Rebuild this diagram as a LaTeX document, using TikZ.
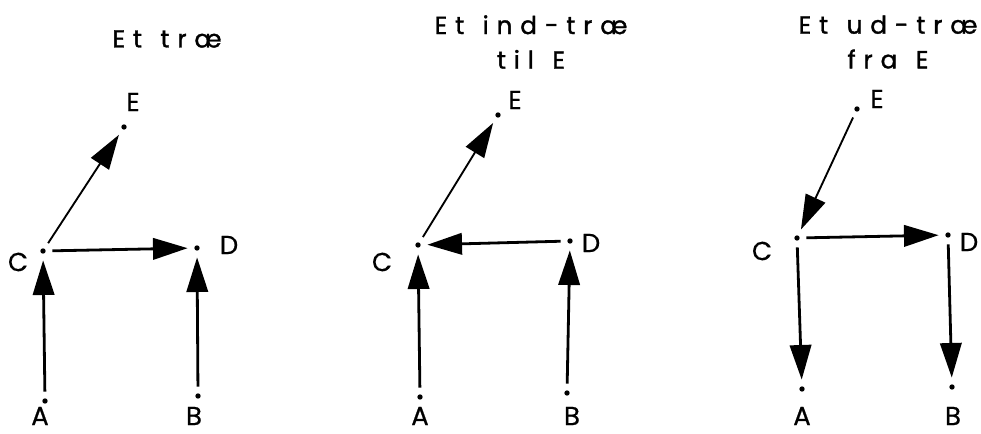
\documentclass[tikz,border=0pt]{standalone}
\usepackage{fontspec}
\setmainfont{Poppins}
\newfontfamily\lblfont[FakeBold=0.6]{Poppins}
\newfontfamily\ttlfont[LetterSpace=32,FakeBold=1.4]{Poppins}
\newcommand{\tsp}{\hspace{0.75em}}
\usetikzlibrary{arrows.meta}

\begin{document}
\begin{tikzpicture}[x=0.75pt, y=-0.75pt, every node/.style={font=\lblfont\fontsize{19.5}{22}\selectfont}]
  \tikzset{
    dot/.style={circle, fill, inner sep=0pt, minimum size=4pt, outer sep=5pt},
    lbl/.style={inner sep=0pt},
    ttl/.style={align=center, inner sep=0pt, font=\ttlfont\fontsize{18.5}{26}\selectfont},
    edge/.style={-{Triangle[length=26pt,width=16pt]}, line width=2.1pt},
    slant/.style={edge, line width=1.4pt}
  }
  \useasboundingbox (0,0) rectangle (981,434);

  % Et trae
  \node[ttl] (t1) at (167,39) {Et\tsp tr\ae};
  \node[dot] (E1) at (124,127) {};
  \node[dot] (C1) at (43,251) {};
  \node[dot] (D1) at (197,248) {};
  \node[dot] (A1) at (45,401) {};
  \node[dot] (B1) at (198,396) {};
  \node[lbl] (E1l) at (133,102) {E};
  \node[lbl] (C1l) at (18,262) {C};
  \node[lbl] (D1l) at (229,245) {D};
  \node[lbl] (A1l) at (40,416) {A};
  \node[lbl] (B1l) at (194,416) {B};
  \draw[slant] (C1) -- (E1);
  \draw[edge] (C1) -- (D1);
  \draw[edge] (A1) -- (C1);
  \draw[edge] (B1) -- (D1);

  % ind-trae til E
  \node[ttl] (t2) at (531,42) {Et\tsp ind-tr\ae\\til\tsp E};
  \node[dot] (E2) at (498,115) {};
  \node[dot] (C2) at (418,245) {};
  \node[dot] (D2) at (570,241) {};
  \node[dot] (A2) at (420,397) {};
  \node[dot] (B2) at (567,393) {};
  \node[lbl] (E2l) at (515,100) {E};
  \node[lbl] (C2l) at (382,262) {C};
  \node[lbl] (D2l) at (591,243) {D};
  \node[lbl] (A2l) at (420,416) {A};
  \node[lbl] (B2l) at (572,416) {B};
  \draw[slant] (C2) -- (E2);
  \draw[edge] (D2) -- (C2);
  \draw[edge] (A2) -- (C2);
  \draw[edge] (B2) -- (D2);

  % ud-trae fra E
  \node[ttl] (t3) at (888,42) {Et\tsp ud-tr\ae\\fra\tsp E};
  \node[dot] (E3) at (857,109) {};
  \node[dot] (C3) at (797,238) {};
  \node[dot] (D3) at (948,235) {};
  \node[dot] (A3) at (802,389) {};
  \node[dot] (B3) at (952,387) {};
  \node[lbl] (E3l) at (877,99) {E};
  \node[lbl] (C3l) at (762,251) {C};
  \node[lbl] (D3l) at (969,242) {D};
  \node[lbl] (A3l) at (802,416) {A};
  \node[lbl] (B3l) at (953,416) {B};
  \draw[slant] (E3) -- (C3);
  \draw[edge] (C3) -- (D3);
  \draw[edge] (C3) -- (A3);
  \draw[edge] (D3) -- (B3);
\end{tikzpicture}
\end{document}
